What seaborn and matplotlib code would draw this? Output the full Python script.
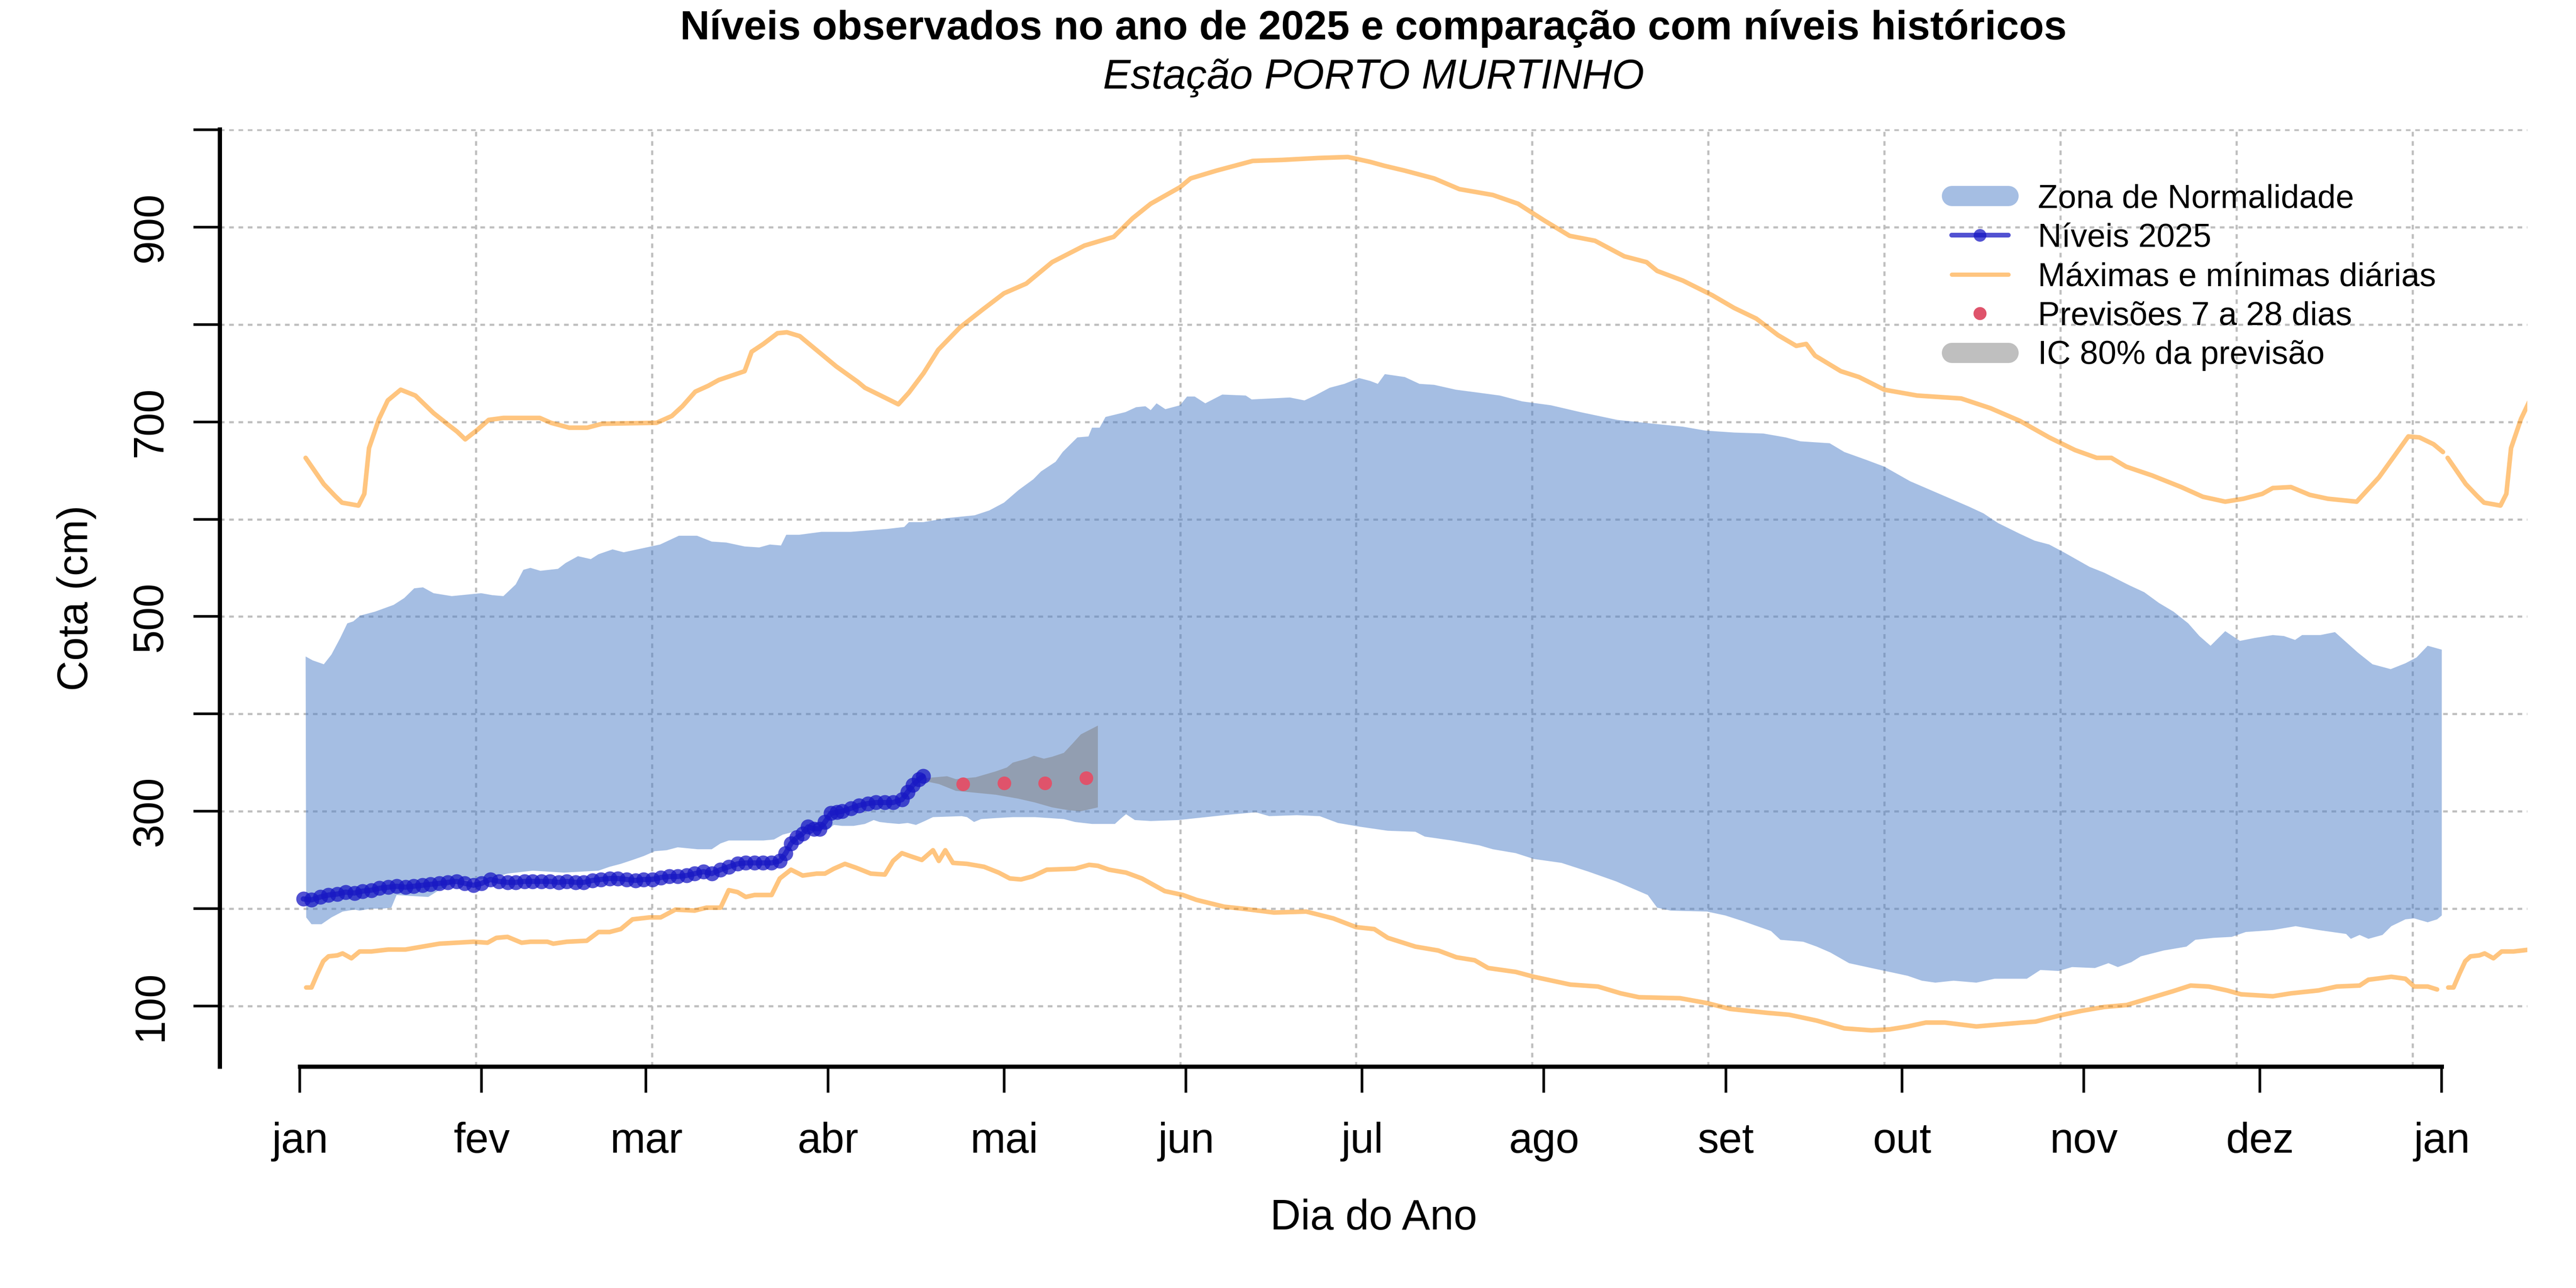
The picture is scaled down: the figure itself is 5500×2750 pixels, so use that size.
import numpy as np
import matplotlib
matplotlib.use("Agg")
import matplotlib.pyplot as plt
from matplotlib.lines import Line2D
import seaborn as sns

# %% dados
dias_max = [2, 5.1, 7, 8.2, 11, 12, 12.8, 14.5, 16, 18.2, 20.7, 23.8, 26.3, 27.8, 29.2, 31.3, 33.2, 35.7,
            41.9, 43.8, 46.9, 50, 52.5, 61.8, 64.4, 66.2, 68.4, 70.6, 72.4, 76.8, 78, 80, 82.4, 84, 86.2,
            88.6, 92.4, 96.1, 97.3, 101, 103, 104.8, 107.3, 109.8, 113.5, 117.3, 121, 124.8, 129.2, 134.7,
            139.7, 142.9, 146, 151, 152.8, 157.2, 163.4, 168.4, 174.6, 179.6, 183.4, 185.8, 189.3, 194.3,
            198.6, 204.3, 208.6, 213, 217.4, 221.7, 226.7, 230.5, 232.3, 236.7, 241.7, 245.4, 249.2, 252.9,
            256, 257.7, 259.2, 263.6, 266.7, 271, 276.6, 284.1, 289.1, 294.1, 299.1, 303.5, 307.2, 309.7,
            312.2, 316.6, 321.6, 325.3, 329.1, 332.2, 335.4, 337.2, 340.3, 343.5, 346.6, 351.5, 355.3,
            358.4, 360.3, 362.2, 364.6, 366.2]
cota_max = [663, 636, 624, 617, 614, 626, 673, 703, 722, 733, 727, 709, 697, 690, 682, 692, 702, 704,
            704, 699, 694, 694, 698, 699, 706, 716, 731, 737, 743, 752, 772, 780, 791, 792, 788,
            776, 757, 741, 735, 724, 718, 730, 750, 774, 797, 815, 832, 842, 864, 881,
            890, 909, 924, 941, 950, 958, 968, 969, 971, 972, 967, 963, 958, 950,
            939, 933, 924, 907, 891, 886, 870, 864, 855, 845, 830, 817, 806, 789,
            778, 780, 768, 752, 746, 733, 727, 724, 714, 701, 684, 671, 663, 663,
            654, 645, 633, 623, 618, 621, 626, 632, 633, 625, 621, 618, 643,
            669, 685, 684, 677, 669]

dias_min = [2.1, 3, 4, 5, 5.9, 7.4, 8.3, 9.8, 11.2, 13.2, 16.1, 19, 22.9, 24.8, 27.7, 30.6, 33, 34.5,
            36.4, 38.8, 40.3, 43.2, 44.2, 46.5, 49.9, 51.9, 53.8, 55.7, 57.7, 60.6, 62.5, 65, 68.3, 70.3,
            72.7, 74.1, 75.6, 77, 78.5, 81.4, 82.8, 84.7, 86.7, 89.1, 90.5, 92, 93.9, 95.8, 98.3, 100.7,
            102.1, 103.6, 105, 107, 108.9, 109.9, 111, 112.3, 114.7, 117.6, 120.1, 122, 123.9, 125.8,
            128.3, 133.1, 135.5, 137, 138.9, 141.8, 144.5, 148.4, 151.5, 153.8, 158.5, 161.6, 167, 172.5,
            177.1, 181, 184.1, 186.4, 191.1, 195, 198.1, 201.2, 203.5, 208.2, 211.3, 217.5, 222.2, 226.1,
            229.2, 236.2, 240.8, 244.7, 251, 254.8, 259.5, 264.2, 268.8, 271.9, 275, 278.1, 281.3, 286.7,
            290.6, 294.5, 296.8, 300.7, 304.6, 308.5, 312.3, 316.2, 320.1, 323.2, 326.3, 329.4, 331.8,
            337.2, 340.3, 345, 348.1, 352, 353.5, 357.4, 359.8, 361.3, 363.6, 365.2]
cota_min = [119, 119, 133, 146, 151, 152, 154, 149, 156, 156, 158, 158, 162, 164, 165, 166, 165, 170,
            171, 165, 166, 166, 164, 166, 167, 176, 176, 179, 189, 191, 191, 199, 198, 201,
            201, 219, 217, 212, 214, 214, 231, 240, 234, 236, 236, 241, 246, 242, 236, 235,
            249, 257, 254, 250, 260, 249, 260, 247, 246, 243, 237, 231, 230, 233,
            240, 241, 245, 244, 240, 237, 231, 218, 214, 209, 202, 200, 196, 197,
            190, 181, 179, 170, 161, 157, 150, 147, 139, 135, 130, 122, 120, 113,
            109, 108, 103, 97, 93, 91, 85, 77, 75, 76, 79, 83, 83, 79,
            81, 83, 84, 90, 95, 99, 101, 108, 115, 121, 120, 116, 112,
            110, 113, 116, 120, 121, 127, 130, 128, 120, 120, 117]

dias_sup = [2, 3.2, 5.1, 6.4, 7.9, 9.1, 10.1, 11.3, 13.8, 17, 18.8, 20.5, 22, 23.8, 26.9, 31.9, 33.8, 35.7,
            37.8, 39.1, 40.3, 42, 45, 46.3, 48.4, 50.6, 51.9, 54.3, 56.2, 59.3, 62.4, 65.6, 68.7, 71.2,
            73.7, 76.8, 79.3, 81.1, 83, 83.9, 86.1, 89.9, 94.9, 101.1, 104, 104.8, 107.3, 111.1, 116,
            118.5, 121, 123.5, 126, 127.3, 129.8, 131, 133.5, 135.4, 136, 137.3, 138.3, 141.7, 143.5,
            145.1, 146, 147, 148.5, 151, 152.2, 153.5, 155.3, 158.2, 162.2, 163.2, 166.5, 169.7, 172.2,
            174, 176.5, 179, 181.5, 183.4, 184.7, 185.9, 189.3, 191.8, 194.3, 198, 201.8, 205.5, 209.3,
            214.2, 219.2, 225.5, 231.7, 236.7, 240.5, 245.4, 250.4, 254.2, 256.7, 261.7, 264.2, 267.9,
            271, 275.4, 280.4, 285.4, 287.9, 290.4, 294.1, 296.6, 299.1, 301.6, 306, 308.5, 312.8,
            315.3, 317.8, 320.3, 322.8, 324.7, 326.6, 329.1, 331.6, 334.1, 337.2, 339.1, 341, 342.2,
            345.3, 347.8, 351.7, 354.2, 357.3, 359.8, 361.7, 363.6, 366]
cota_sup = [459, 455, 451, 461, 478, 493, 495, 501, 505, 512, 519, 529, 530, 524, 521, 524, 522, 521,
            533, 548, 550, 547, 549, 555, 562, 559, 564, 569, 566, 570, 574, 583, 583, 577,
            576, 572, 571, 574, 573, 584, 584, 587, 587, 590, 592, 597, 597, 601, 604,
            609, 617, 630, 641, 649, 659, 669, 684, 685, 694, 694, 705, 710, 715,
            716, 712, 719, 713, 717, 726, 726, 719, 728, 727, 723, 724, 725, 722,
            727, 735, 739, 745, 742, 739, 749, 746, 739, 738, 733, 730, 727, 721,
            717, 710, 702, 698, 695, 691, 689, 688, 684, 680, 678, 669, 661,
            654, 639, 626, 613, 606, 596, 585, 578, 574, 566, 551, 545, 532,
            525, 514, 505, 493, 480, 470, 485, 475, 478, 481, 480, 476, 481,
            481, 484, 463, 451, 446, 452, 458, 470, 466]

dias_inf = [2.1, 3, 4.7, 6.4, 8.3, 10.3, 11.2, 13.2, 15.1, 16.6, 17.5, 20, 22.9, 25, 28, 30.6, 33.5, 36.4,
            40.7, 46, 51.9, 53.8, 55.7, 57.7, 59.6, 61.5, 63.5, 65.4, 68.8, 71.2, 72.7, 74.1, 78, 80,
            81.8, 83.3, 85.2, 87.2, 89.1, 91, 92, 93.4, 95.4, 97.3, 98.8, 99.8, 101.2, 103.1, 104.6, 106,
            107.5, 108.9, 113.8, 114.7, 115.9, 117.1, 119.6, 122.5, 126.3, 131.2, 133.1, 136, 139.9,
            140.8, 141.8, 143.3, 146, 150.7, 155.4, 158.5, 163.9, 166.2, 170.9, 174.8, 177.9, 181.8,
            186.4, 191.1, 192.7, 197.3, 202, 204.3, 208.2, 211.3, 216, 220.6, 225.3, 230.7, 232.3,
            234.6, 240.8, 243.9, 247, 251.7, 253.3, 257.2, 259.5, 261.8, 265, 268.8, 272.7, 275, 277.4,
            279.7, 282.8, 286.7, 289.8, 295.3, 297.6, 300.7, 303, 306.9, 309.2, 310.8, 313.1, 314.7,
            318.6, 322.5, 324, 327.1, 330.2, 332.6, 337.2, 341.1, 345, 349.7, 350.5, 352, 353.5, 355.9,
            357.4, 359.8, 361.3, 363.6, 365.2, 366]
cota_inf = [191, 184, 184, 191, 197, 199, 198, 200, 200, 201, 214, 213, 212, 220, 229, 230, 231, 236,
            239, 237, 239, 243, 246, 250, 254, 259, 260, 263, 261, 261, 267, 270, 270, 270,
            271, 276, 279, 283, 286, 281, 286, 285, 285, 287, 291, 289, 288, 287, 288, 286,
            290, 294, 295, 294, 289, 292, 293, 294, 294, 292, 289, 287, 287,
            292, 297, 291, 290, 291, 294, 296, 299, 295, 296, 295, 288, 284,
            280, 279, 274, 270, 265, 261, 257, 251, 247, 238, 228, 214, 201,
            198, 197, 193, 187, 177, 168, 166, 161, 155, 144, 139, 134, 131, 126,
            124, 126, 124, 128, 128, 137, 136, 140, 139, 144, 140, 145, 151,
            157, 161, 168, 170, 171, 176, 178, 182, 178, 174, 169, 173, 169, 173,
            182, 189, 190, 186, 189, 193]

dias_2025 = [1.6, 3.0, 4.5, 5.9, 7.4, 8.8, 10.3, 11.7, 13.2, 14.6, 16.1, 17.5, 19.0, 20.4, 21.9, 23.3,
             24.8, 26.2, 27.7, 29.1, 30.6, 32.0, 33.5, 34.9, 36.4, 37.8, 39.3, 40.7, 42.2, 43.6, 45.1,
             46.5, 48.0, 49.4, 50.9, 52.3, 53.8, 55.2, 56.7, 58.2, 59.6, 61.1, 62.5, 64.0, 65.4, 66.9,
             68.3, 69.8, 71.2, 72.7, 74.1, 75.6, 77.0, 78.5, 79.9, 81.4, 82.8, 83.8, 84.7, 85.7, 86.7,
             87.6, 88.6, 89.6, 90.5, 91.5, 92.5, 93.4, 94.9, 96.3, 97.8, 99.2, 100.7, 102.1, 103.6,
             104.6, 105.5, 106.5, 107.2]
cota_2025 = [210, 209, 212, 214, 215, 217, 216, 218, 219, 221, 222, 223, 222, 223, 224, 225,
             226, 227, 228, 226, 224, 226, 230, 228, 227, 227, 228, 228, 228, 228, 227,
             228, 227, 227, 229, 230, 231, 231, 230, 229, 230, 230, 232, 233, 233, 234,
             236, 238, 236, 240, 243, 246, 247, 247, 247, 247, 249, 257, 267, 273, 277,
             284, 282, 282, 289, 298, 299, 300, 303, 306, 308, 309, 309, 309, 312,
             320, 327, 333, 336]

dias_prev = [114, 121, 128, 135]
cota_prev = [328, 329, 329, 334]

dias_ic_sup = [107.5, 111.3, 112.8, 116.2, 119.6, 121.5, 122.5, 124.9, 126.1, 127.8, 129.2, 131.2, 132.6, 134.1, 137]
cota_ic_sup = [334, 336, 333, 335, 341, 345, 350, 354, 357, 354, 356, 360, 369, 379, 388]
dias_ic_inf = [107.5, 109.9, 112.8, 116.2, 119.6, 123.4, 126.3, 129.2, 132.1, 134.1, 137]
cota_ic_inf = [331, 328, 321, 319, 317, 313, 309, 304, 301, 300, 304]

meses_dia = [1, 32, 60, 91, 121, 152, 182, 213, 244, 274, 305, 335, 366]
meses_nome = ["jan", "fev", "mar", "abr", "mai", "jun", "jul", "ago", "set", "out", "nov", "dez", "jan"]

COR_ZONA = "#4D7FC9"
COR_2025 = "#1818C4"
COR_EXT = "darkorange"
COR_PREV = "#DF536B"
COR_IC = "gray"

# %% estilo
sns.set_style("white")
plt.rcParams["font.family"] = ["Liberation Sans", "DejaVu Sans"]
plt.rcParams["text.color"] = "black"
plt.rcParams["axes.labelcolor"] = "black"
plt.rcParams["xtick.color"] = "black"
plt.rcParams["ytick.color"] = "black"

fig = plt.figure(figsize=(22, 11), dpi=250)
ax = fig.add_axes([0.08527, 0.17200, 0.89582, 0.72764])

# zona de normalidade
ax.fill(np.concatenate([dias_sup, dias_inf[::-1]]),
        np.concatenate([cota_sup, cota_inf[::-1]]),
        color=COR_ZONA, alpha=0.5, lw=0, zorder=1)

# máximas e mínimas (ano corrente e início do ano seguinte)
for dd, cc in [(dias_max, cota_max), (dias_min, cota_min)]:
    sns.lineplot(x=dd, y=cc, ax=ax, color=COR_EXT, alpha=0.5, lw=2.8,
                 estimator=None, sort=False, zorder=2)
    sns.lineplot(x=np.array(dd) + 365, y=cc, ax=ax, color=COR_EXT, alpha=0.5, lw=2.8,
                 estimator=None, sort=False, zorder=2)

# intervalo de confiança da previsão
ax.fill(np.concatenate([dias_ic_sup, dias_ic_inf[::-1]]),
        np.concatenate([cota_ic_sup, cota_ic_inf[::-1]]),
        color=COR_IC, alpha=0.5, lw=0, zorder=3)

# níveis 2025
sns.lineplot(x=dias_2025, y=cota_2025, ax=ax, color=COR_2025, alpha=0.75, lw=3.2,
             marker="o", markersize=9.2, markeredgewidth=0,
             estimator=None, sort=False, zorder=4)

# previsões
sns.scatterplot(x=dias_prev, y=cota_prev, ax=ax, color=COR_PREV, s=8.4 ** 2,
                linewidth=0, zorder=5)

# %% eixos
ax.set_xlim(-12.65, 380.57)
ax.set_ylim(37.9, 1000.5)

ax.set_xticks(meses_dia)
ax.set_xticklabels(meses_nome)
ax.set_xticks(np.arange(1, 362, 30), minor=True)

yt = np.arange(100, 1001, 100)
ax.set_yticks(yt)
ax.set_yticklabels([str(v) if v % 200 == 100 else "" for v in yt],
                   rotation=90, va="center", ha="right")

ax.tick_params(axis="both", which="major", length=16, width=1.6, labelsize=26,
               bottom=True, left=True)
ax.tick_params(axis="x", which="major", pad=18)
ax.tick_params(axis="y", which="major", pad=14)
ax.tick_params(axis="x", which="minor", length=0, bottom=True)

ax.set_axisbelow(True)
grid_kw = dict(color="#BEBEBE", lw=1.3, ls=(0, (2.2, 2.2)))
ax.grid(False)
ax.yaxis.grid(True, which="major", **grid_kw)
ax.xaxis.grid(True, which="minor", **grid_kw)
ax.xaxis.grid(False, which="major")

sns.despine(ax=ax)
for s in ["left", "bottom"]:
    ax.spines[s].set_linewidth(2.6)
    ax.spines[s].set_color("black")
ax.spines["bottom"].set_bounds(1, 366)

ax.set_xlabel("Dia do Ano", fontsize=26)
ax.xaxis.set_label_coords(0.5, -0.1739)
ax.xaxis.label.set_va("baseline")
ax.set_ylabel("Cota (cm)", fontsize=26)
ax.yaxis.set_label_coords(-0.0572, 0.5)
ax.yaxis.label.set_va("baseline")

fig.text(0.5332, 0.96945, "Níveis observados no ano de 2025 e comparação com níveis históricos",
         ha="center", va="baseline", fontsize=25.2, fontweight="bold")
fig.text(0.5332, 0.93127, "Estação PORTO MURTINHO",
         ha="center", va="baseline", fontsize=25.5, fontstyle="italic")

# %% legenda
handles = [
    Line2D([], [], color=COR_ZONA, alpha=0.5, lw=12.4, solid_capstyle="round"),
    Line2D([], [], color=COR_2025, alpha=0.75, lw=2.9, marker="o", ms=7.8, mew=0,
           solid_capstyle="round"),
    Line2D([], [], color=COR_EXT, alpha=0.5, lw=2.6, solid_capstyle="round"),
    Line2D([], [], color=COR_PREV, lw=0, marker="o", ms=8, mew=0),
    Line2D([], [], color=COR_IC, alpha=0.5, lw=12.4, solid_capstyle="round"),
]
labels = ["Zona de Normalidade", "Níveis 2025", "Máximas e mínimas diárias",
          "Previsões 7 a 28 dias", "IC 80% da previsão"]
ax.legend(handles, labels, loc="upper left", bbox_to_anchor=(4167 / 5500, 1 - 392 / 2750),
          bbox_transform=fig.transFigure, frameon=False, fontsize=20.2,
          handlelength=1.72, handletextpad=0.9, labelspacing=0.25,
          borderpad=0, borderaxespad=0, numpoints=1)

fig.savefig("out.png", dpi=250)
